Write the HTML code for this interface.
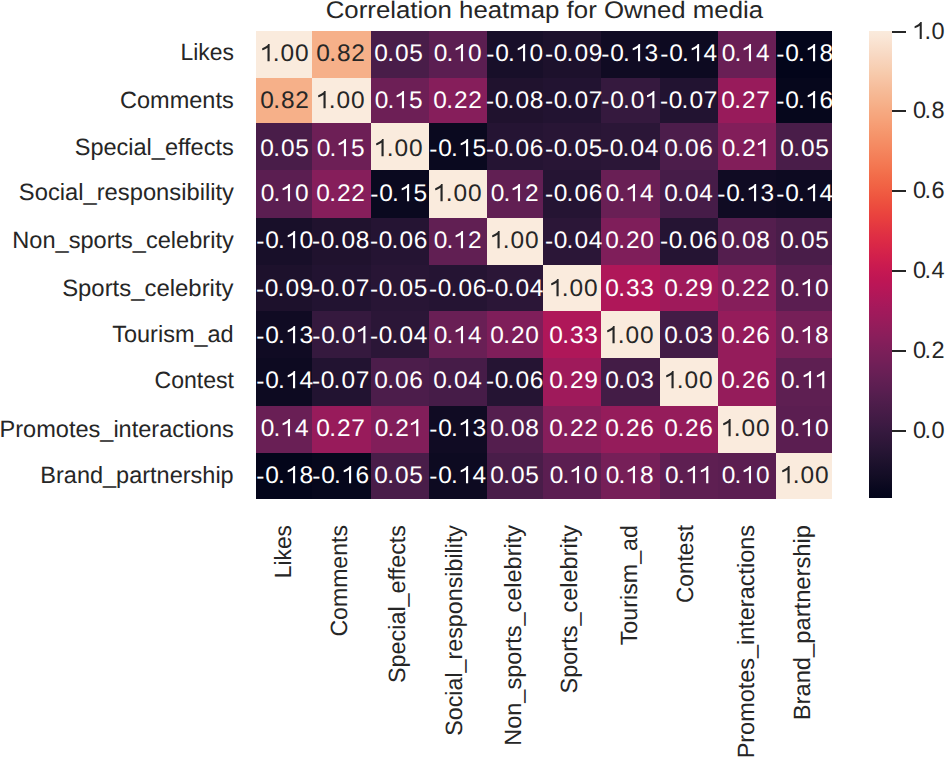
<!DOCTYPE html><html><head><meta charset="utf-8"><style>
html,body{margin:0;padding:0;background:#fff;}
body{width:945px;height:758px;position:relative;overflow:hidden;font-family:"Liberation Sans",sans-serif;color:#262626;text-rendering:geometricPrecision;}
#w{position:absolute;left:0;top:0;width:945px;height:758px;}
.c{position:absolute;}
.a{position:absolute;width:100px;margin-left:-50px;text-align:center;white-space:nowrap;font-size:24.00px;line-height:1;letter-spacing:0.70px;transform:scaleX(1.020);}
.yl{position:absolute;white-space:nowrap;font-size:23.50px;line-height:1;right:711.30px;transform-origin:100% 50%;transform:scaleX(1.000);}
.xl{position:absolute;white-space:nowrap;font-size:23.50px;line-height:1;transform-origin:0 0;transform:rotate(-90deg) translateX(-100%) scaleX(1.000);}
.cl{position:absolute;white-space:nowrap;font-size:23.50px;line-height:1;}
.tk{position:absolute;background:#262626;}
.dot{position:relative;left:-1.50px;margin-right:-1.20px}
.hy{position:relative;top:1.00px}
.one{display:inline;width:0.5562em;height:0.7188em;vertical-align:baseline;fill:currentColor;overflow:visible}
</style></head><body><div id="w">
<div class="c" style="left:256.30px;top:30.50px;width:56.30px;height:47.40px;background:#faebdd"></div>
<div class="c" style="left:312.20px;top:30.50px;width:58.90px;height:47.40px;background:#f6b089"></div>
<div class="c" style="left:370.70px;top:30.50px;width:58.40px;height:47.40px;background:#491d49"></div>
<div class="c" style="left:428.70px;top:30.50px;width:58.80px;height:47.40px;background:#5b1e51"></div>
<div class="c" style="left:487.10px;top:30.50px;width:56.40px;height:47.40px;background:#180f29"></div>
<div class="c" style="left:543.10px;top:30.50px;width:58.60px;height:47.40px;background:#1d112c"></div>
<div class="c" style="left:601.30px;top:30.50px;width:58.60px;height:47.40px;background:#100b23"></div>
<div class="c" style="left:659.50px;top:30.50px;width:58.40px;height:47.40px;background:#0d0a21"></div>
<div class="c" style="left:717.50px;top:30.50px;width:58.60px;height:47.40px;background:#691f55"></div>
<div class="c" style="left:775.70px;top:30.50px;width:56.40px;height:47.40px;background:#03051a"></div>
<div class="c" style="left:256.30px;top:77.50px;width:56.30px;height:46.10px;background:#f6b089"></div>
<div class="c" style="left:312.20px;top:77.50px;width:58.90px;height:46.10px;background:#faebdd"></div>
<div class="c" style="left:370.70px;top:77.50px;width:58.40px;height:46.10px;background:#6d1f56"></div>
<div class="c" style="left:428.70px;top:77.50px;width:58.80px;height:46.10px;background:#861e5b"></div>
<div class="c" style="left:487.10px;top:77.50px;width:56.40px;height:46.10px;background:#20122e"></div>
<div class="c" style="left:543.10px;top:77.50px;width:58.60px;height:46.10px;background:#221331"></div>
<div class="c" style="left:601.30px;top:77.50px;width:58.60px;height:46.10px;background:#35193e"></div>
<div class="c" style="left:659.50px;top:77.50px;width:58.40px;height:46.10px;background:#221331"></div>
<div class="c" style="left:717.50px;top:77.50px;width:58.60px;height:46.10px;background:#981b5b"></div>
<div class="c" style="left:775.70px;top:77.50px;width:56.40px;height:46.10px;background:#06071c"></div>
<div class="c" style="left:256.30px;top:123.20px;width:56.30px;height:47.60px;background:#491d49"></div>
<div class="c" style="left:312.20px;top:123.20px;width:58.90px;height:47.60px;background:#6d1f56"></div>
<div class="c" style="left:370.70px;top:123.20px;width:58.40px;height:47.60px;background:#faebdd"></div>
<div class="c" style="left:428.70px;top:123.20px;width:58.80px;height:47.60px;background:#0a091f"></div>
<div class="c" style="left:487.10px;top:123.20px;width:56.40px;height:47.60px;background:#251433"></div>
<div class="c" style="left:543.10px;top:123.20px;width:58.60px;height:47.60px;background:#281535"></div>
<div class="c" style="left:601.30px;top:123.20px;width:58.60px;height:47.60px;background:#2b1637"></div>
<div class="c" style="left:659.50px;top:123.20px;width:58.40px;height:47.60px;background:#4c1d4b"></div>
<div class="c" style="left:717.50px;top:123.20px;width:58.60px;height:47.60px;background:#821e5a"></div>
<div class="c" style="left:775.70px;top:123.20px;width:56.40px;height:47.60px;background:#491d49"></div>
<div class="c" style="left:256.30px;top:170.40px;width:56.30px;height:47.90px;background:#5b1e51"></div>
<div class="c" style="left:312.20px;top:170.40px;width:58.90px;height:47.90px;background:#861e5b"></div>
<div class="c" style="left:370.70px;top:170.40px;width:58.40px;height:47.90px;background:#0a091f"></div>
<div class="c" style="left:428.70px;top:170.40px;width:58.80px;height:47.90px;background:#faebdd"></div>
<div class="c" style="left:487.10px;top:170.40px;width:56.40px;height:47.90px;background:#611f53"></div>
<div class="c" style="left:543.10px;top:170.40px;width:58.60px;height:47.90px;background:#251433"></div>
<div class="c" style="left:601.30px;top:170.40px;width:58.60px;height:47.90px;background:#691f55"></div>
<div class="c" style="left:659.50px;top:170.40px;width:58.40px;height:47.90px;background:#461c48"></div>
<div class="c" style="left:717.50px;top:170.40px;width:58.60px;height:47.90px;background:#100b23"></div>
<div class="c" style="left:775.70px;top:170.40px;width:56.40px;height:47.90px;background:#0d0a21"></div>
<div class="c" style="left:256.30px;top:217.90px;width:56.30px;height:47.90px;background:#180f29"></div>
<div class="c" style="left:312.20px;top:217.90px;width:58.90px;height:47.90px;background:#20122e"></div>
<div class="c" style="left:370.70px;top:217.90px;width:58.40px;height:47.90px;background:#251433"></div>
<div class="c" style="left:428.70px;top:217.90px;width:58.80px;height:47.90px;background:#611f53"></div>
<div class="c" style="left:487.10px;top:217.90px;width:56.40px;height:47.90px;background:#faebdd"></div>
<div class="c" style="left:543.10px;top:217.90px;width:58.60px;height:47.90px;background:#2b1637"></div>
<div class="c" style="left:601.30px;top:217.90px;width:58.60px;height:47.90px;background:#7f1e5a"></div>
<div class="c" style="left:659.50px;top:217.90px;width:58.40px;height:47.90px;background:#251433"></div>
<div class="c" style="left:717.50px;top:217.90px;width:58.60px;height:47.90px;background:#541e4e"></div>
<div class="c" style="left:775.70px;top:217.90px;width:56.40px;height:47.90px;background:#491d49"></div>
<div class="c" style="left:256.30px;top:265.40px;width:56.30px;height:45.50px;background:#1d112c"></div>
<div class="c" style="left:312.20px;top:265.40px;width:58.90px;height:45.50px;background:#221331"></div>
<div class="c" style="left:370.70px;top:265.40px;width:58.40px;height:45.50px;background:#281535"></div>
<div class="c" style="left:428.70px;top:265.40px;width:58.80px;height:45.50px;background:#251433"></div>
<div class="c" style="left:487.10px;top:265.40px;width:56.40px;height:45.50px;background:#2b1637"></div>
<div class="c" style="left:543.10px;top:265.40px;width:58.60px;height:45.50px;background:#faebdd"></div>
<div class="c" style="left:601.30px;top:265.40px;width:58.60px;height:45.50px;background:#af1759"></div>
<div class="c" style="left:659.50px;top:265.40px;width:58.40px;height:45.50px;background:#9f1a5b"></div>
<div class="c" style="left:717.50px;top:265.40px;width:58.60px;height:45.50px;background:#861e5b"></div>
<div class="c" style="left:775.70px;top:265.40px;width:56.40px;height:45.50px;background:#5b1e51"></div>
<div class="c" style="left:256.30px;top:310.50px;width:56.30px;height:48.00px;background:#100b23"></div>
<div class="c" style="left:312.20px;top:310.50px;width:58.90px;height:48.00px;background:#35193e"></div>
<div class="c" style="left:370.70px;top:310.50px;width:58.40px;height:48.00px;background:#2b1637"></div>
<div class="c" style="left:428.70px;top:310.50px;width:58.80px;height:48.00px;background:#691f55"></div>
<div class="c" style="left:487.10px;top:310.50px;width:56.40px;height:48.00px;background:#7f1e5a"></div>
<div class="c" style="left:543.10px;top:310.50px;width:58.60px;height:48.00px;background:#af1759"></div>
<div class="c" style="left:601.30px;top:310.50px;width:58.60px;height:48.00px;background:#faebdd"></div>
<div class="c" style="left:659.50px;top:310.50px;width:58.40px;height:48.00px;background:#431c46"></div>
<div class="c" style="left:717.50px;top:310.50px;width:58.60px;height:48.00px;background:#951c5b"></div>
<div class="c" style="left:775.70px;top:310.50px;width:56.40px;height:48.00px;background:#761f58"></div>
<div class="c" style="left:256.30px;top:358.10px;width:56.30px;height:47.90px;background:#0d0a21"></div>
<div class="c" style="left:312.20px;top:358.10px;width:58.90px;height:47.90px;background:#221331"></div>
<div class="c" style="left:370.70px;top:358.10px;width:58.40px;height:47.90px;background:#4c1d4b"></div>
<div class="c" style="left:428.70px;top:358.10px;width:58.80px;height:47.90px;background:#461c48"></div>
<div class="c" style="left:487.10px;top:358.10px;width:56.40px;height:47.90px;background:#251433"></div>
<div class="c" style="left:543.10px;top:358.10px;width:58.60px;height:47.90px;background:#9f1a5b"></div>
<div class="c" style="left:601.30px;top:358.10px;width:58.60px;height:47.90px;background:#431c46"></div>
<div class="c" style="left:659.50px;top:358.10px;width:58.40px;height:47.90px;background:#faebdd"></div>
<div class="c" style="left:717.50px;top:358.10px;width:58.60px;height:47.90px;background:#951c5b"></div>
<div class="c" style="left:775.70px;top:358.10px;width:56.40px;height:47.90px;background:#5e1f52"></div>
<div class="c" style="left:256.30px;top:405.60px;width:56.30px;height:47.90px;background:#691f55"></div>
<div class="c" style="left:312.20px;top:405.60px;width:58.90px;height:47.90px;background:#981b5b"></div>
<div class="c" style="left:370.70px;top:405.60px;width:58.40px;height:47.90px;background:#821e5a"></div>
<div class="c" style="left:428.70px;top:405.60px;width:58.80px;height:47.90px;background:#100b23"></div>
<div class="c" style="left:487.10px;top:405.60px;width:56.40px;height:47.90px;background:#541e4e"></div>
<div class="c" style="left:543.10px;top:405.60px;width:58.60px;height:47.90px;background:#861e5b"></div>
<div class="c" style="left:601.30px;top:405.60px;width:58.60px;height:47.90px;background:#951c5b"></div>
<div class="c" style="left:659.50px;top:405.60px;width:58.40px;height:47.90px;background:#951c5b"></div>
<div class="c" style="left:717.50px;top:405.60px;width:58.60px;height:47.90px;background:#faebdd"></div>
<div class="c" style="left:775.70px;top:405.60px;width:56.40px;height:47.90px;background:#5b1e51"></div>
<div class="c" style="left:256.30px;top:453.10px;width:56.30px;height:45.50px;background:#03051a"></div>
<div class="c" style="left:312.20px;top:453.10px;width:58.90px;height:45.50px;background:#06071c"></div>
<div class="c" style="left:370.70px;top:453.10px;width:58.40px;height:45.50px;background:#491d49"></div>
<div class="c" style="left:428.70px;top:453.10px;width:58.80px;height:45.50px;background:#0d0a21"></div>
<div class="c" style="left:487.10px;top:453.10px;width:56.40px;height:45.50px;background:#491d49"></div>
<div class="c" style="left:543.10px;top:453.10px;width:58.60px;height:45.50px;background:#5b1e51"></div>
<div class="c" style="left:601.30px;top:453.10px;width:58.60px;height:45.50px;background:#761f58"></div>
<div class="c" style="left:659.50px;top:453.10px;width:58.40px;height:45.50px;background:#5e1f52"></div>
<div class="c" style="left:717.50px;top:453.10px;width:58.60px;height:45.50px;background:#5b1e51"></div>
<div class="c" style="left:775.70px;top:453.10px;width:56.40px;height:45.50px;background:#faebdd"></div>
<div class="a" style="left:285.02px;top:42.00px;color:#262626"><svg class="one" viewBox="0 0 1139 1472"><path d="M763 1472L583 1472L583 325Q503 387 373 449Q243.5 511 140 542L140 368Q326 297 463 196Q600 95 647 0L763 0Z"/></svg><span class="dot">.</span>00</div>
<div class="a" style="left:341.36px;top:42.00px;color:#262626">0<span class="dot">.</span>82</div>
<div class="a" style="left:399.45px;top:42.00px;color:#ffffff">0<span class="dot">.</span>05</div>
<div class="a" style="left:458.14px;top:42.00px;color:#ffffff">0<span class="dot">.</span><svg class="one" viewBox="0 0 1139 1472"><path d="M763 1472L583 1472L583 325Q503 387 373 449Q243.5 511 140 542L140 368Q326 297 463 196Q600 95 647 0L763 0Z"/></svg>0</div>
<div class="a" style="left:515.43px;top:42.00px;color:#ffffff"><span class="hy">-</span>0<span class="dot">.</span><svg class="one" viewBox="0 0 1139 1472"><path d="M763 1472L583 1472L583 325Q503 387 373 449Q243.5 511 140 542L140 368Q326 297 463 196Q600 95 647 0L763 0Z"/></svg>0</div>
<div class="a" style="left:573.97px;top:42.00px;color:#ffffff"><span class="hy">-</span>0<span class="dot">.</span>09</div>
<div class="a" style="left:630.16px;top:42.00px;color:#ffffff"><span class="hy">-</span>0<span class="dot">.</span><svg class="one" viewBox="0 0 1139 1472"><path d="M763 1472L583 1472L583 325Q503 387 373 449Q243.5 511 140 542L140 368Q326 297 463 196Q600 95 647 0L763 0Z"/></svg>3</div>
<div class="a" style="left:688.90px;top:42.00px;color:#ffffff"><span class="hy">-</span>0<span class="dot">.</span><svg class="one" viewBox="0 0 1139 1472"><path d="M763 1472L583 1472L583 325Q503 387 373 449Q243.5 511 140 542L140 368Q326 297 463 196Q600 95 647 0L763 0Z"/></svg>4</div>
<div class="a" style="left:746.44px;top:42.00px;color:#ffffff">0<span class="dot">.</span><svg class="one" viewBox="0 0 1139 1472"><path d="M763 1472L583 1472L583 325Q503 387 373 449Q243.5 511 140 542L140 368Q326 297 463 196Q600 95 647 0L763 0Z"/></svg>4</div>
<div class="a" style="left:804.58px;top:42.00px;color:#ffffff"><span class="hy">-</span>0<span class="dot">.</span><svg class="one" viewBox="0 0 1139 1472"><path d="M763 1472L583 1472L583 325Q503 387 373 449Q243.5 511 140 542L140 368Q326 297 463 196Q600 95 647 0L763 0Z"/></svg>8</div>
<div class="a" style="left:285.02px;top:89.00px;color:#262626">0<span class="dot">.</span>82</div>
<div class="a" style="left:341.36px;top:89.00px;color:#262626"><svg class="one" viewBox="0 0 1139 1472"><path d="M763 1472L583 1472L583 325Q503 387 373 449Q243.5 511 140 542L140 368Q326 297 463 196Q600 95 647 0L763 0Z"/></svg><span class="dot">.</span>00</div>
<div class="a" style="left:399.45px;top:89.00px;color:#ffffff">0<span class="dot">.</span><svg class="one" viewBox="0 0 1139 1472"><path d="M763 1472L583 1472L583 325Q503 387 373 449Q243.5 511 140 542L140 368Q326 297 463 196Q600 95 647 0L763 0Z"/></svg>5</div>
<div class="a" style="left:458.14px;top:89.00px;color:#ffffff">0<span class="dot">.</span>22</div>
<div class="a" style="left:515.43px;top:89.00px;color:#ffffff"><span class="hy">-</span>0<span class="dot">.</span>08</div>
<div class="a" style="left:573.97px;top:89.00px;color:#ffffff"><span class="hy">-</span>0<span class="dot">.</span>07</div>
<div class="a" style="left:630.16px;top:89.00px;color:#ffffff"><span class="hy">-</span>0<span class="dot">.</span>0<svg class="one" viewBox="0 0 1139 1472"><path d="M763 1472L583 1472L583 325Q503 387 373 449Q243.5 511 140 542L140 368Q326 297 463 196Q600 95 647 0L763 0Z"/></svg></div>
<div class="a" style="left:688.90px;top:89.00px;color:#ffffff"><span class="hy">-</span>0<span class="dot">.</span>07</div>
<div class="a" style="left:746.44px;top:89.00px;color:#ffffff">0<span class="dot">.</span>27</div>
<div class="a" style="left:804.58px;top:89.00px;color:#ffffff"><span class="hy">-</span>0<span class="dot">.</span><svg class="one" viewBox="0 0 1139 1472"><path d="M763 1472L583 1472L583 325Q503 387 373 449Q243.5 511 140 542L140 368Q326 297 463 196Q600 95 647 0L763 0Z"/></svg>6</div>
<div class="a" style="left:285.02px;top:137.00px;color:#ffffff">0<span class="dot">.</span>05</div>
<div class="a" style="left:341.36px;top:137.00px;color:#ffffff">0<span class="dot">.</span><svg class="one" viewBox="0 0 1139 1472"><path d="M763 1472L583 1472L583 325Q503 387 373 449Q243.5 511 140 542L140 368Q326 297 463 196Q600 95 647 0L763 0Z"/></svg>5</div>
<div class="a" style="left:399.45px;top:137.00px;color:#262626"><svg class="one" viewBox="0 0 1139 1472"><path d="M763 1472L583 1472L583 325Q503 387 373 449Q243.5 511 140 542L140 368Q326 297 463 196Q600 95 647 0L763 0Z"/></svg><span class="dot">.</span>00</div>
<div class="a" style="left:458.14px;top:137.00px;color:#ffffff"><span class="hy">-</span>0<span class="dot">.</span><svg class="one" viewBox="0 0 1139 1472"><path d="M763 1472L583 1472L583 325Q503 387 373 449Q243.5 511 140 542L140 368Q326 297 463 196Q600 95 647 0L763 0Z"/></svg>5</div>
<div class="a" style="left:515.43px;top:137.00px;color:#ffffff"><span class="hy">-</span>0<span class="dot">.</span>06</div>
<div class="a" style="left:573.97px;top:137.00px;color:#ffffff"><span class="hy">-</span>0<span class="dot">.</span>05</div>
<div class="a" style="left:630.16px;top:137.00px;color:#ffffff"><span class="hy">-</span>0<span class="dot">.</span>04</div>
<div class="a" style="left:688.90px;top:137.00px;color:#ffffff">0<span class="dot">.</span>06</div>
<div class="a" style="left:746.44px;top:137.00px;color:#ffffff">0<span class="dot">.</span>2<svg class="one" viewBox="0 0 1139 1472"><path d="M763 1472L583 1472L583 325Q503 387 373 449Q243.5 511 140 542L140 368Q326 297 463 196Q600 95 647 0L763 0Z"/></svg></div>
<div class="a" style="left:804.58px;top:137.00px;color:#ffffff">0<span class="dot">.</span>05</div>
<div class="a" style="left:285.02px;top:182.00px;color:#ffffff">0<span class="dot">.</span><svg class="one" viewBox="0 0 1139 1472"><path d="M763 1472L583 1472L583 325Q503 387 373 449Q243.5 511 140 542L140 368Q326 297 463 196Q600 95 647 0L763 0Z"/></svg>0</div>
<div class="a" style="left:341.36px;top:182.00px;color:#ffffff">0<span class="dot">.</span>22</div>
<div class="a" style="left:399.45px;top:182.00px;color:#ffffff"><span class="hy">-</span>0<span class="dot">.</span><svg class="one" viewBox="0 0 1139 1472"><path d="M763 1472L583 1472L583 325Q503 387 373 449Q243.5 511 140 542L140 368Q326 297 463 196Q600 95 647 0L763 0Z"/></svg>5</div>
<div class="a" style="left:458.14px;top:182.00px;color:#262626"><svg class="one" viewBox="0 0 1139 1472"><path d="M763 1472L583 1472L583 325Q503 387 373 449Q243.5 511 140 542L140 368Q326 297 463 196Q600 95 647 0L763 0Z"/></svg><span class="dot">.</span>00</div>
<div class="a" style="left:515.43px;top:182.00px;color:#ffffff">0<span class="dot">.</span><svg class="one" viewBox="0 0 1139 1472"><path d="M763 1472L583 1472L583 325Q503 387 373 449Q243.5 511 140 542L140 368Q326 297 463 196Q600 95 647 0L763 0Z"/></svg>2</div>
<div class="a" style="left:573.97px;top:182.00px;color:#ffffff"><span class="hy">-</span>0<span class="dot">.</span>06</div>
<div class="a" style="left:630.16px;top:182.00px;color:#ffffff">0<span class="dot">.</span><svg class="one" viewBox="0 0 1139 1472"><path d="M763 1472L583 1472L583 325Q503 387 373 449Q243.5 511 140 542L140 368Q326 297 463 196Q600 95 647 0L763 0Z"/></svg>4</div>
<div class="a" style="left:688.90px;top:182.00px;color:#ffffff">0<span class="dot">.</span>04</div>
<div class="a" style="left:746.44px;top:182.00px;color:#ffffff"><span class="hy">-</span>0<span class="dot">.</span><svg class="one" viewBox="0 0 1139 1472"><path d="M763 1472L583 1472L583 325Q503 387 373 449Q243.5 511 140 542L140 368Q326 297 463 196Q600 95 647 0L763 0Z"/></svg>3</div>
<div class="a" style="left:804.58px;top:182.00px;color:#ffffff"><span class="hy">-</span>0<span class="dot">.</span><svg class="one" viewBox="0 0 1139 1472"><path d="M763 1472L583 1472L583 325Q503 387 373 449Q243.5 511 140 542L140 368Q326 297 463 196Q600 95 647 0L763 0Z"/></svg>4</div>
<div class="a" style="left:285.02px;top:229.00px;color:#ffffff"><span class="hy">-</span>0<span class="dot">.</span><svg class="one" viewBox="0 0 1139 1472"><path d="M763 1472L583 1472L583 325Q503 387 373 449Q243.5 511 140 542L140 368Q326 297 463 196Q600 95 647 0L763 0Z"/></svg>0</div>
<div class="a" style="left:341.36px;top:229.00px;color:#ffffff"><span class="hy">-</span>0<span class="dot">.</span>08</div>
<div class="a" style="left:399.45px;top:229.00px;color:#ffffff"><span class="hy">-</span>0<span class="dot">.</span>06</div>
<div class="a" style="left:458.14px;top:229.00px;color:#ffffff">0<span class="dot">.</span><svg class="one" viewBox="0 0 1139 1472"><path d="M763 1472L583 1472L583 325Q503 387 373 449Q243.5 511 140 542L140 368Q326 297 463 196Q600 95 647 0L763 0Z"/></svg>2</div>
<div class="a" style="left:515.43px;top:229.00px;color:#262626"><svg class="one" viewBox="0 0 1139 1472"><path d="M763 1472L583 1472L583 325Q503 387 373 449Q243.5 511 140 542L140 368Q326 297 463 196Q600 95 647 0L763 0Z"/></svg><span class="dot">.</span>00</div>
<div class="a" style="left:573.97px;top:229.00px;color:#ffffff"><span class="hy">-</span>0<span class="dot">.</span>04</div>
<div class="a" style="left:630.16px;top:229.00px;color:#ffffff">0<span class="dot">.</span>20</div>
<div class="a" style="left:688.90px;top:229.00px;color:#ffffff"><span class="hy">-</span>0<span class="dot">.</span>06</div>
<div class="a" style="left:746.44px;top:229.00px;color:#ffffff">0<span class="dot">.</span>08</div>
<div class="a" style="left:804.58px;top:229.00px;color:#ffffff">0<span class="dot">.</span>05</div>
<div class="a" style="left:285.02px;top:277.00px;color:#ffffff"><span class="hy">-</span>0<span class="dot">.</span>09</div>
<div class="a" style="left:341.36px;top:277.00px;color:#ffffff"><span class="hy">-</span>0<span class="dot">.</span>07</div>
<div class="a" style="left:399.45px;top:277.00px;color:#ffffff"><span class="hy">-</span>0<span class="dot">.</span>05</div>
<div class="a" style="left:458.14px;top:277.00px;color:#ffffff"><span class="hy">-</span>0<span class="dot">.</span>06</div>
<div class="a" style="left:515.43px;top:277.00px;color:#ffffff"><span class="hy">-</span>0<span class="dot">.</span>04</div>
<div class="a" style="left:573.97px;top:277.00px;color:#262626"><svg class="one" viewBox="0 0 1139 1472"><path d="M763 1472L583 1472L583 325Q503 387 373 449Q243.5 511 140 542L140 368Q326 297 463 196Q600 95 647 0L763 0Z"/></svg><span class="dot">.</span>00</div>
<div class="a" style="left:630.16px;top:277.00px;color:#ffffff">0<span class="dot">.</span>33</div>
<div class="a" style="left:688.90px;top:277.00px;color:#ffffff">0<span class="dot">.</span>29</div>
<div class="a" style="left:746.44px;top:277.00px;color:#ffffff">0<span class="dot">.</span>22</div>
<div class="a" style="left:804.58px;top:277.00px;color:#ffffff">0<span class="dot">.</span><svg class="one" viewBox="0 0 1139 1472"><path d="M763 1472L583 1472L583 325Q503 387 373 449Q243.5 511 140 542L140 368Q326 297 463 196Q600 95 647 0L763 0Z"/></svg>0</div>
<div class="a" style="left:285.02px;top:324.00px;color:#ffffff"><span class="hy">-</span>0<span class="dot">.</span><svg class="one" viewBox="0 0 1139 1472"><path d="M763 1472L583 1472L583 325Q503 387 373 449Q243.5 511 140 542L140 368Q326 297 463 196Q600 95 647 0L763 0Z"/></svg>3</div>
<div class="a" style="left:341.36px;top:324.00px;color:#ffffff"><span class="hy">-</span>0<span class="dot">.</span>0<svg class="one" viewBox="0 0 1139 1472"><path d="M763 1472L583 1472L583 325Q503 387 373 449Q243.5 511 140 542L140 368Q326 297 463 196Q600 95 647 0L763 0Z"/></svg></div>
<div class="a" style="left:399.45px;top:324.00px;color:#ffffff"><span class="hy">-</span>0<span class="dot">.</span>04</div>
<div class="a" style="left:458.14px;top:324.00px;color:#ffffff">0<span class="dot">.</span><svg class="one" viewBox="0 0 1139 1472"><path d="M763 1472L583 1472L583 325Q503 387 373 449Q243.5 511 140 542L140 368Q326 297 463 196Q600 95 647 0L763 0Z"/></svg>4</div>
<div class="a" style="left:515.43px;top:324.00px;color:#ffffff">0<span class="dot">.</span>20</div>
<div class="a" style="left:573.97px;top:324.00px;color:#ffffff">0<span class="dot">.</span>33</div>
<div class="a" style="left:630.16px;top:324.00px;color:#262626"><svg class="one" viewBox="0 0 1139 1472"><path d="M763 1472L583 1472L583 325Q503 387 373 449Q243.5 511 140 542L140 368Q326 297 463 196Q600 95 647 0L763 0Z"/></svg><span class="dot">.</span>00</div>
<div class="a" style="left:688.90px;top:324.00px;color:#ffffff">0<span class="dot">.</span>03</div>
<div class="a" style="left:746.44px;top:324.00px;color:#ffffff">0<span class="dot">.</span>26</div>
<div class="a" style="left:804.58px;top:324.00px;color:#ffffff">0<span class="dot">.</span><svg class="one" viewBox="0 0 1139 1472"><path d="M763 1472L583 1472L583 325Q503 387 373 449Q243.5 511 140 542L140 368Q326 297 463 196Q600 95 647 0L763 0Z"/></svg>8</div>
<div class="a" style="left:285.02px;top:369.00px;color:#ffffff"><span class="hy">-</span>0<span class="dot">.</span><svg class="one" viewBox="0 0 1139 1472"><path d="M763 1472L583 1472L583 325Q503 387 373 449Q243.5 511 140 542L140 368Q326 297 463 196Q600 95 647 0L763 0Z"/></svg>4</div>
<div class="a" style="left:341.36px;top:369.00px;color:#ffffff"><span class="hy">-</span>0<span class="dot">.</span>07</div>
<div class="a" style="left:399.45px;top:369.00px;color:#ffffff">0<span class="dot">.</span>06</div>
<div class="a" style="left:458.14px;top:369.00px;color:#ffffff">0<span class="dot">.</span>04</div>
<div class="a" style="left:515.43px;top:369.00px;color:#ffffff"><span class="hy">-</span>0<span class="dot">.</span>06</div>
<div class="a" style="left:573.97px;top:369.00px;color:#ffffff">0<span class="dot">.</span>29</div>
<div class="a" style="left:630.16px;top:369.00px;color:#ffffff">0<span class="dot">.</span>03</div>
<div class="a" style="left:688.90px;top:369.00px;color:#262626"><svg class="one" viewBox="0 0 1139 1472"><path d="M763 1472L583 1472L583 325Q503 387 373 449Q243.5 511 140 542L140 368Q326 297 463 196Q600 95 647 0L763 0Z"/></svg><span class="dot">.</span>00</div>
<div class="a" style="left:746.44px;top:369.00px;color:#ffffff">0<span class="dot">.</span>26</div>
<div class="a" style="left:804.58px;top:369.00px;color:#ffffff">0<span class="dot">.</span><svg class="one" viewBox="0 0 1139 1472"><path d="M763 1472L583 1472L583 325Q503 387 373 449Q243.5 511 140 542L140 368Q326 297 463 196Q600 95 647 0L763 0Z"/></svg><svg class="one" viewBox="0 0 1139 1472"><path d="M763 1472L583 1472L583 325Q503 387 373 449Q243.5 511 140 542L140 368Q326 297 463 196Q600 95 647 0L763 0Z"/></svg></div>
<div class="a" style="left:285.02px;top:417.00px;color:#ffffff">0<span class="dot">.</span><svg class="one" viewBox="0 0 1139 1472"><path d="M763 1472L583 1472L583 325Q503 387 373 449Q243.5 511 140 542L140 368Q326 297 463 196Q600 95 647 0L763 0Z"/></svg>4</div>
<div class="a" style="left:341.36px;top:417.00px;color:#ffffff">0<span class="dot">.</span>27</div>
<div class="a" style="left:399.45px;top:417.00px;color:#ffffff">0<span class="dot">.</span>2<svg class="one" viewBox="0 0 1139 1472"><path d="M763 1472L583 1472L583 325Q503 387 373 449Q243.5 511 140 542L140 368Q326 297 463 196Q600 95 647 0L763 0Z"/></svg></div>
<div class="a" style="left:458.14px;top:417.00px;color:#ffffff"><span class="hy">-</span>0<span class="dot">.</span><svg class="one" viewBox="0 0 1139 1472"><path d="M763 1472L583 1472L583 325Q503 387 373 449Q243.5 511 140 542L140 368Q326 297 463 196Q600 95 647 0L763 0Z"/></svg>3</div>
<div class="a" style="left:515.43px;top:417.00px;color:#ffffff">0<span class="dot">.</span>08</div>
<div class="a" style="left:573.97px;top:417.00px;color:#ffffff">0<span class="dot">.</span>22</div>
<div class="a" style="left:630.16px;top:417.00px;color:#ffffff">0<span class="dot">.</span>26</div>
<div class="a" style="left:688.90px;top:417.00px;color:#ffffff">0<span class="dot">.</span>26</div>
<div class="a" style="left:746.44px;top:417.00px;color:#262626"><svg class="one" viewBox="0 0 1139 1472"><path d="M763 1472L583 1472L583 325Q503 387 373 449Q243.5 511 140 542L140 368Q326 297 463 196Q600 95 647 0L763 0Z"/></svg><span class="dot">.</span>00</div>
<div class="a" style="left:804.58px;top:417.00px;color:#ffffff">0<span class="dot">.</span><svg class="one" viewBox="0 0 1139 1472"><path d="M763 1472L583 1472L583 325Q503 387 373 449Q243.5 511 140 542L140 368Q326 297 463 196Q600 95 647 0L763 0Z"/></svg>0</div>
<div class="a" style="left:285.02px;top:464.00px;color:#ffffff"><span class="hy">-</span>0<span class="dot">.</span><svg class="one" viewBox="0 0 1139 1472"><path d="M763 1472L583 1472L583 325Q503 387 373 449Q243.5 511 140 542L140 368Q326 297 463 196Q600 95 647 0L763 0Z"/></svg>8</div>
<div class="a" style="left:341.36px;top:464.00px;color:#ffffff"><span class="hy">-</span>0<span class="dot">.</span><svg class="one" viewBox="0 0 1139 1472"><path d="M763 1472L583 1472L583 325Q503 387 373 449Q243.5 511 140 542L140 368Q326 297 463 196Q600 95 647 0L763 0Z"/></svg>6</div>
<div class="a" style="left:399.45px;top:464.00px;color:#ffffff">0<span class="dot">.</span>05</div>
<div class="a" style="left:458.14px;top:464.00px;color:#ffffff"><span class="hy">-</span>0<span class="dot">.</span><svg class="one" viewBox="0 0 1139 1472"><path d="M763 1472L583 1472L583 325Q503 387 373 449Q243.5 511 140 542L140 368Q326 297 463 196Q600 95 647 0L763 0Z"/></svg>4</div>
<div class="a" style="left:515.43px;top:464.00px;color:#ffffff">0<span class="dot">.</span>05</div>
<div class="a" style="left:573.97px;top:464.00px;color:#ffffff">0<span class="dot">.</span><svg class="one" viewBox="0 0 1139 1472"><path d="M763 1472L583 1472L583 325Q503 387 373 449Q243.5 511 140 542L140 368Q326 297 463 196Q600 95 647 0L763 0Z"/></svg>0</div>
<div class="a" style="left:630.16px;top:464.00px;color:#ffffff">0<span class="dot">.</span><svg class="one" viewBox="0 0 1139 1472"><path d="M763 1472L583 1472L583 325Q503 387 373 449Q243.5 511 140 542L140 368Q326 297 463 196Q600 95 647 0L763 0Z"/></svg>8</div>
<div class="a" style="left:688.90px;top:464.00px;color:#ffffff">0<span class="dot">.</span><svg class="one" viewBox="0 0 1139 1472"><path d="M763 1472L583 1472L583 325Q503 387 373 449Q243.5 511 140 542L140 368Q326 297 463 196Q600 95 647 0L763 0Z"/></svg><svg class="one" viewBox="0 0 1139 1472"><path d="M763 1472L583 1472L583 325Q503 387 373 449Q243.5 511 140 542L140 368Q326 297 463 196Q600 95 647 0L763 0Z"/></svg></div>
<div class="a" style="left:746.44px;top:464.00px;color:#ffffff">0<span class="dot">.</span><svg class="one" viewBox="0 0 1139 1472"><path d="M763 1472L583 1472L583 325Q503 387 373 449Q243.5 511 140 542L140 368Q326 297 463 196Q600 95 647 0L763 0Z"/></svg>0</div>
<div class="a" style="left:804.58px;top:464.00px;color:#262626"><svg class="one" viewBox="0 0 1139 1472"><path d="M763 1472L583 1472L583 325Q503 387 373 449Q243.5 511 140 542L140 368Q326 297 463 196Q600 95 647 0L763 0Z"/></svg><span class="dot">.</span>00</div>
<div class="yl" style="top:41.00px;transform:scaleX(0.973)">Likes</div>
<div class="yl" style="top:89.00px;transform:scaleX(1.000)">Comments</div>
<div class="yl" style="top:136.00px;transform:scaleX(1.000)">Special_effects</div>
<div class="yl" style="top:181.00px;transform:scaleX(1.010)">Social_responsibility</div>
<div class="yl" style="top:229.00px;transform:scaleX(1.003)">Non_sports_celebrity</div>
<div class="yl" style="top:277.00px;transform:scaleX(1.017)">Sports_celebrity</div>
<div class="yl" style="top:323.00px;transform:scaleX(1.000)">Tourism_ad</div>
<div class="yl" style="top:369.00px;transform:scaleX(0.981)">Contest</div>
<div class="yl" style="top:418.00px;transform:scaleX(1.002)">Promotes_interactions</div>
<div class="yl" style="top:464.00px;transform:scaleX(1.000)">Brand_partnership</div>
<div class="xl" style="left:271.62px;top:525.10px;transform:rotate(-90deg) scaleX(0.969) translateX(-100%)">Likes</div>
<div class="xl" style="left:327.82px;top:525.10px;transform:rotate(-90deg) scaleX(0.982) translateX(-100%)">Comments</div>
<div class="xl" style="left:385.82px;top:525.10px;transform:rotate(-90deg) scaleX(0.994) translateX(-100%)">Special_effects</div>
<div class="xl" style="left:442.93px;top:525.10px;transform:rotate(-90deg) scaleX(0.990) translateX(-100%)">Social_responsibility</div>
<div class="xl" style="left:501.52px;top:525.10px;transform:rotate(-90deg) scaleX(1.000) translateX(-100%)">Non_sports_celebrity</div>
<div class="xl" style="left:557.52px;top:525.10px;transform:rotate(-90deg) scaleX(1.000) translateX(-100%)">Sports_celebrity</div>
<div class="xl" style="left:617.52px;top:525.10px;transform:rotate(-90deg) scaleX(0.990) translateX(-100%)">Tourism_ad</div>
<div class="xl" style="left:674.12px;top:525.10px;transform:rotate(-90deg) scaleX(0.963) translateX(-100%)">Contest</div>
<div class="xl" style="left:734.62px;top:525.10px;transform:rotate(-90deg) scaleX(0.998) translateX(-100%)">Promotes_interactions</div>
<div class="xl" style="left:790.82px;top:525.10px;transform:rotate(-90deg) scaleX(1.010) translateX(-100%)">Brand_partnership</div>
<div class="c" style="left:868.50px;top:30.50px;width:23.50px;height:467.50px;background:linear-gradient(to bottom,#faebdd 0.00%,#fae6d6 1.56%,#f9e0cd 3.12%,#f8dac5 4.69%,#f8d4bc 6.25%,#f7cfb3 7.81%,#f7c9aa 9.38%,#f7c2a2 10.94%,#f6bc99 12.50%,#f6b691 14.06%,#f6b089 15.62%,#f6a981 17.19%,#f6a37a 18.75%,#f69c73 20.31%,#f5966c 21.88%,#f58f66 23.44%,#f58860 25.00%,#f4815a 26.56%,#f47a54 28.12%,#f3734e 29.69%,#f26b49 31.25%,#f16445 32.81%,#f05c42 34.38%,#ee543f 35.94%,#ec4c3e 37.50%,#ea443e 39.06%,#e73d3f 40.62%,#e33641 42.19%,#df2f44 43.75%,#db2946 45.31%,#d62449 46.88%,#d11f4c 48.44%,#cb1b4f 50.00%,#c51852 51.56%,#bf1654 53.12%,#b91657 54.69%,#b21758 56.25%,#ab185a 57.81%,#a4195b 59.38%,#9e1a5b 60.94%,#971c5b 62.50%,#901d5b 64.06%,#891e5b 65.62%,#821e5a 67.19%,#7b1f59 68.75%,#751f58 70.31%,#6e1f57 71.88%,#681f55 73.44%,#611f53 75.00%,#5b1e51 76.56%,#541e4e 78.12%,#4e1d4b 79.69%,#481c48 81.25%,#421b45 82.81%,#3c1a42 84.38%,#35193e 85.94%,#30173a 87.50%,#2a1636 89.06%,#241432 90.62%,#1e122d 92.19%,#180f29 93.75%,#130d25 95.31%,#0d0a21 96.88%,#07071d 98.44%,#03051a 100.00%)"></div>
<div class="tk" style="left:892.30px;top:429.60px;width:13.70px;height:2.00px"></div>
<div class="cl" style="left:913.00px;top:418.62px">0<span class="dot">.</span>0</div>
<div class="tk" style="left:892.30px;top:349.78px;width:13.70px;height:2.00px"></div>
<div class="cl" style="left:913.00px;top:338.81px">0<span class="dot">.</span>2</div>
<div class="tk" style="left:892.30px;top:269.96px;width:13.70px;height:2.00px"></div>
<div class="cl" style="left:913.00px;top:258.99px">0<span class="dot">.</span>4</div>
<div class="tk" style="left:892.30px;top:190.14px;width:13.70px;height:2.00px"></div>
<div class="cl" style="left:913.00px;top:179.17px">0<span class="dot">.</span>6</div>
<div class="tk" style="left:892.30px;top:110.32px;width:13.70px;height:2.00px"></div>
<div class="cl" style="left:913.00px;top:99.34px">0<span class="dot">.</span>8</div>
<div class="tk" style="left:892.30px;top:30.50px;width:13.70px;height:2.00px"></div>
<div class="cl" style="left:913.00px;top:19.53px"><svg class="one" viewBox="0 0 1139 1472"><path d="M763 1472L583 1472L583 325Q503 387 373 449Q243.5 511 140 542L140 368Q326 297 463 196Q600 95 647 0L763 0Z"/></svg><span class="dot">.</span>0</div>
<div style="position:absolute;left:544.40px;top:-2.50px;width:800px;margin-left:-400px;text-align:center;font-size:25.80px;line-height:1;white-space:nowrap;transform-origin:50% 21.00px;transform:scale(1.000,0.930)">Correlation heatmap for Owned media</div>
</div></body></html>
